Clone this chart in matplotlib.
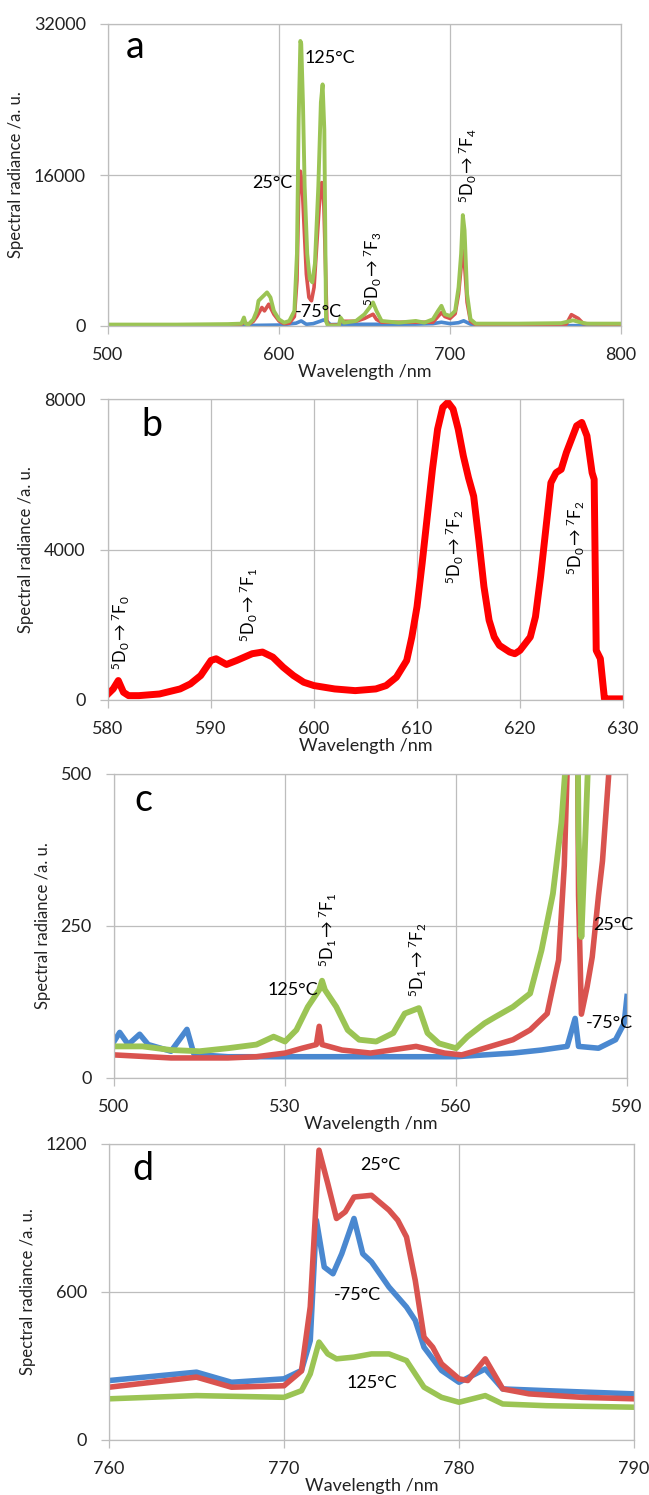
import matplotlib
matplotlib.use('Agg')
import matplotlib.pyplot as plt

plt.rcParams['font.family'] = ['Lato', 'DejaVu Sans']
plt.rcParams['mathtext.fontset'] = 'custom'
plt.rcParams['mathtext.rm'] = 'Lato'
plt.rcParams['mathtext.it'] = 'Lato:italic'
plt.rcParams['mathtext.bf'] = 'Lato:bold'

# ---------------- Panel a : full spectra ----------------
a_wl_green = [500, 540, 570, 578, 579.5, 580.5, 582, 585, 587, 588, 590, 593, 595, 597, 600, 603, 606, 609,
              610.5, 611.5, 612.5, 613, 614, 615, 616.5, 618, 619.5, 621, 623, 624.5, 625.5, 626.5, 627,
              627.5, 628.5, 635, 636, 638, 645, 650, 653, 655, 657, 660, 670, 680, 685, 690, 693, 695,
              697, 700, 703, 705, 706.5, 707.5, 708.5, 710, 712, 715, 740, 765, 772, 776, 780, 800]
a_green = [150, 150, 200, 250, 900, 250, 150, 700, 1600, 2670, 3030, 3560, 3030, 1600, 700, 356, 534, 1600,
           7650, 21900, 30200, 29900, 23700, 14800, 7650, 4980, 4630, 6590, 14770, 23700, 25600, 20800, 11200,
           534, 50, 50, 890, 356, 534, 1246, 1960, 2490, 1600, 534, 356, 534, 356, 712, 1600, 2136,
           1246, 1068, 1600, 4094, 7654, 11750, 10150, 3380, 712, 250, 250, 300, 600, 400, 250, 250]
a_wl_red = [500, 570, 578, 580, 582, 585, 587, 590, 591.5, 594, 597, 600, 603, 606, 609, 610.5, 611.5, 612.5,
            613.5, 614.5, 616, 617.5, 619, 620.5, 622, 623.5, 625, 626, 627, 628, 629, 635, 636, 645, 650,
            655, 657, 660, 690, 695, 697, 700, 703, 705, 706.5, 707.5, 708.5, 710, 712, 715, 768, 771,
            773, 775, 778, 800]
a_red = [100, 120, 200, 400, 150, 500, 1000, 1960, 1600, 2310, 1246, 534, 250, 300, 1000, 4800, 13700, 16400,
         15130, 11200, 5500, 3030, 2670, 4094, 8370, 12640, 15200, 14420, 7650, 500, 100, 100, 500, 500, 800,
         1246, 700, 400, 400, 1420, 1000, 800, 1300, 3380, 6230, 8010, 6590, 2500, 500, 150, 200, 1200,
         1000, 800, 250, 150]
a_wl_blue = [500, 580, 600, 605, 610, 613, 616, 620, 624, 626, 628, 630, 640, 660, 680, 690, 695, 700, 705,
             708, 712, 720, 800]
a_blue = [30, 50, 100, 200, 300, 534, 180, 250, 500, 640, 500, 150, 180, 180, 200, 250, 400, 250, 350,
          550, 200, 50, 30]

# ---------------- Panel b : 25 C, 580-630 nm ----------------
b_wl = [580, 580.5, 581, 581.5, 582, 583, 585, 587, 588, 589, 590, 590.5, 591.5, 592.5, 594, 595, 596, 597,
        598, 599, 600, 602, 604, 606, 607, 608, 609, 609.5, 610, 610.5, 611, 611.5, 612, 612.5, 613, 613.5,
        614, 614.5, 615, 615.5, 616, 616.5, 617, 617.5, 618, 619, 619.5, 620, 621, 621.5, 622, 622.5, 623,
        623.5, 624, 624.5, 625, 625.5, 626, 626.5, 627, 627.2, 627.4, 627.8, 628.2, 628.5, 630]
b_red = [160, 294, 517, 205, 116, 116, 160, 294, 428, 650, 1051, 1096, 944, 1051, 1230, 1274, 1140, 873,
         650, 472, 383, 294, 249, 294, 383, 606, 1051, 1675, 2477, 3635, 4883, 6130, 7199, 7778, 7912, 7734,
         7199, 6486, 5907, 5417, 4259, 3012, 2120, 1675, 1452, 1274, 1230, 1319, 1675, 2210, 3279, 4526, 5774,
         6041, 6130, 6576, 6932, 7288, 7377, 7021, 6041, 5863, 1319, 1100, 30, 30, 30]

# ---------------- Panel c : 500-590 nm (5D1 emissions) ----------------
c_wl_blue = [500, 501, 502.5, 504.5, 506, 510, 512.8, 514, 515, 520, 530, 540, 550, 560, 565, 570, 575,
             579.5, 580.9, 581.5, 585, 588, 589.5, 590]
c_blue = [60, 75, 55, 72, 55, 44, 80, 40, 38, 35, 35, 35, 35, 35, 38, 41, 46, 52, 98, 52, 49, 63, 90, 134]
c_wl_red = [500, 510, 520, 525, 530, 533, 535.5, 536, 536.5, 540, 545, 553, 558, 561, 565, 570, 573, 576,
            578, 579, 579.8, 580.7, 581.5, 582, 583, 583.9, 585, 585.7, 586.8, 588, 590]
c_red = [38, 33, 33, 35, 41, 49, 55, 85, 55, 46, 41, 52, 41, 38, 49, 63, 79, 106, 194, 350, 600, 1500, 300,
         105, 150, 199, 300, 357, 500, 700, 900]
c_wl_green = [500, 505, 510, 515, 520, 525, 528, 530, 532, 534, 536, 536.5, 537, 539, 541, 543, 546, 549,
              551, 553.5, 555, 557, 560, 562, 565, 567, 570, 573, 575, 577, 578.5, 579.5, 580.5, 581.5, 582,
              582.5, 583.5, 590]
c_green = [52, 52, 46, 44, 49, 55, 68, 60, 79, 117, 145, 160, 145, 117, 79, 63, 60, 74, 106, 115, 74, 57,
           49, 68, 90, 101, 117, 139, 210, 303, 420, 550, 1500, 400, 232, 350, 600, 1500]

# ---------------- Panel d : 760-790 nm ----------------
d_wl_red = [760, 765, 767, 770, 771, 771.5, 772, 772.5, 773, 773.5, 774, 775, 776, 776.5, 777, 777.5, 778,
            778.5, 779, 780, 780.5, 781.5, 782.5, 784, 787, 790]
d_red = [214, 255, 214, 220, 280, 540, 1175, 1040, 898, 925, 985, 992, 932, 891, 823, 647, 417, 376, 309,
         248, 241, 329, 207, 187, 173, 167]
d_wl_blue = [760, 765, 767, 770, 771, 771.5, 771.85, 772.3, 772.8, 773.3, 774, 774.5, 775, 776, 777, 777.5,
             778, 778.5, 779, 780, 781.5, 782.5, 785, 790]
d_blue = [241, 275, 234, 248, 282, 403, 891, 701, 674, 755, 898, 755, 722, 620, 539, 485, 376, 329, 282, 234,
          288, 207, 200, 187]
d_wl_green = [760, 765, 770, 771, 771.5, 772, 772.5, 773, 774, 775, 776, 777, 777.5, 778, 779, 780, 781.5,
              782.5, 785, 790]
d_green = [167, 180, 173, 200, 268, 397, 349, 329, 336, 349, 349, 322, 268, 214, 173, 153, 180, 146, 139, 133]

GREEN = '#9bc454'
RED = '#d9534f'
BLUE = '#4a88d0'
PURE_RED = '#ff0000'
GRID = '#bdbdbd'

W, H = 649, 1495
fig = plt.figure(figsize=(W / 100, H / 100), dpi=100)

def px_axes(left, top, right, bottom):
    return fig.add_axes([left / W, 1 - bottom / H, (right - left) / W, (bottom - top) / H])

def style(ax, xlim, xticks, ylim, yticks):
    ax.set_xlim(*xlim)
    ax.set_ylim(*ylim)
    ax.set_xticks(xticks)
    ax.set_yticks(yticks)
    ax.grid(True, color=GRID, lw=0.9)
    ax.set_axisbelow(True)
    for s in ax.spines.values():
        s.set_color(GRID)
        s.set_linewidth(0.9)
    ax.tick_params(axis='both', colors=GRID, length=6, width=0.9, labelsize=13, labelcolor='#222222')
    ax.tick_params(axis='x', pad=9)
    ax.tick_params(axis='y', pad=10)
    ax.set_xlabel('Wavelength /nm', fontsize=13, labelpad=1, color='#222222')
    ax.set_ylabel('Spectral radiance /a. u.', fontsize=12, labelpad=7, color='#222222')

def trans(lower, upper, sub):
    return r'$^{%s}$D$_{%s}$$\rightarrow$$^{7}$F$_{%s}$' % (lower, upper, sub)

# Panel a
axa = px_axes(108, 24, 621, 326)
style(axa, (500, 800), [500, 600, 700, 800], (0, 32000), [0, 16000, 32000])
axa.plot(a_wl_blue, a_blue, color=BLUE, lw=2.6)
axa.plot(a_wl_red, a_red, color=RED, lw=2.6)
axa.plot(a_wl_green, a_green, color=GREEN, lw=2.8)
axa.text(0.035, 0.985, 'a', transform=axa.transAxes, fontsize=27, ha='left', va='top')
axa.text(630, 28400, '125°C', fontsize=13, ha='center', va='center')
axa.text(596, 15150, '25°C', fontsize=13, ha='center', va='center')
axa.text(623, 1500, '-75°C', fontsize=13, ha='center', va='center')
axa.text(655, 6060, trans(5, 0, 3), fontsize=12, rotation=90, ha='center', va='center')
axa.text(710.5, 16960, trans(5, 0, 4), fontsize=12, rotation=90, ha='center', va='center')

# Panel b
axb = px_axes(108, 399, 623, 700)
style(axb, (580, 630), [580, 590, 600, 610, 620, 630], (0, 8000), [0, 4000, 8000])
axb.plot(b_wl, b_red, color=PURE_RED, lw=5)
axb.text(0.065, 0.975, 'b', transform=axb.transAxes, fontsize=27, ha='left', va='top')
axb.text(581.3, 1800, trans(5, 0, 0), fontsize=12, rotation=90, ha='center', va='center')
axb.text(593.7, 2525, trans(5, 0, 1), fontsize=12, rotation=90, ha='center', va='center')
axb.text(613.7, 4070, trans(5, 0, 2), fontsize=12, rotation=90, ha='center', va='center')
axb.text(625.4, 4300, trans(5, 0, 2), fontsize=12, rotation=90, ha='center', va='center')

# Panel c
axc = px_axes(114, 774, 627, 1078)
style(axc, (500, 590), [500, 530, 560, 590], (0, 500), [0, 250, 500])
axc.plot(c_wl_blue, c_blue, color=BLUE, lw=4)
axc.plot(c_wl_red, c_red, color=RED, lw=4)
axc.plot(c_wl_green, c_green, color=GREEN, lw=4.2)
axc.text(0.04, 0.975, 'c', transform=axc.transAxes, fontsize=27, ha='left', va='top')
axc.text(531.4, 145, '125°C', fontsize=13, ha='center', va='center')
axc.text(587.6, 252, '25°C', fontsize=13, ha='center', va='center')
axc.text(587.0, 90, '-75°C', fontsize=13, ha='center', va='center')
axc.text(537.6, 243, trans(5, 1, 1), fontsize=12, rotation=90, ha='center', va='center')
axc.text(553.3, 194, trans(5, 1, 2), fontsize=12, rotation=90, ha='center', va='center')

# Panel d
axd = px_axes(109, 1144, 634, 1440)
style(axd, (760, 790), [760, 770, 780, 790], (0, 1200), [0, 600, 1200])
axd.plot(d_wl_blue, d_blue, color=BLUE, lw=4)
axd.plot(d_wl_red, d_red, color=RED, lw=4)
axd.plot(d_wl_green, d_green, color=GREEN, lw=4)
axd.text(0.045, 0.975, 'd', transform=axd.transAxes, fontsize=27, ha='left', va='top')
axd.text(775.5, 1115, '25°C', fontsize=13, ha='center', va='center')
axd.text(774.2, 586, '-75°C', fontsize=13, ha='center', va='center')
axd.text(775.0, 230, '125°C', fontsize=13, ha='center', va='center')

fig.savefig('out.png', dpi=100)
